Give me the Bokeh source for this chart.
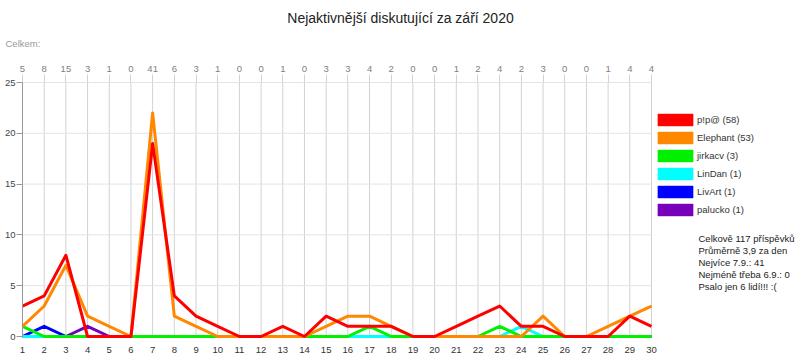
import numpy as np
from bokeh.plotting import figure
from bokeh.models import Range1d, FixedTicker, LinearAxis, Legend, LegendItem, Label
from bokeh.embed import file_html
from bokeh.resources import INLINE

# ---- data ----
days = list(range(1, 31))
totals = [5, 8, 15, 3, 1, 0, 41, 6, 3, 1, 0, 0, 1, 0, 3, 3, 4, 2, 0, 0, 1, 2, 4, 2, 3, 0, 0, 1, 4, 4]
pip = [3, 4, 8, 0, 0, 0, 19, 4, 2, 1, 0, 0, 1, 0, 2, 1, 1, 1, 0, 0, 1, 2, 3, 1, 1, 0, 0, 0, 2, 1]
elephant = [1, 3, 7, 2, 1, 0, 22, 2, 1, 0, 0, 0, 0, 0, 1, 2, 2, 1, 0, 0, 0, 0, 0, 0, 2, 0, 0, 1, 2, 3]
jirkacv = [1, 0, 0, 0, 0, 0, 0, 0, 0, 0, 0, 0, 0, 0, 0, 0, 1, 0, 0, 0, 0, 0, 1, 0, 0, 0, 0, 0, 0, 0]
lindan = [0, 0, 0, 0, 0, 0, 0, 0, 0, 0, 0, 0, 0, 0, 0, 0, 0, 0, 0, 0, 0, 0, 0, 1, 0, 0, 0, 0, 0, 0]
livart = [0, 1, 0, 0, 0, 0, 0, 0, 0, 0, 0, 0, 0, 0, 0, 0, 0, 0, 0, 0, 0, 0, 0, 0, 0, 0, 0, 0, 0, 0]
palucko = [0, 0, 0, 1, 0, 0, 0, 0, 0, 0, 0, 0, 0, 0, 0, 0, 0, 0, 0, 0, 0, 0, 0, 0, 0, 0, 0, 0, 0, 0]
names = ["p!p@", "Elephant", "jirkacv", "LinDan", "LivArt", "palucko"]
series = [pip, elephant, jirkacv, lindan, livart, palucko]
colors = ["#ff0000", "#ff8800", "#00f000", "#00ffff", "#0000ff", "#7700bb"]
title_text = "Nejaktivnější diskutující za září 2020"
summary_label = "Celkem:"
info_lines = ["Celkově 117 příspěvků", "Průměrně 3,9 za den", "Nejvíce 7.9.: 41",
              "Nejméně třeba 6.9.: 0", "Psalo jen 6 lidí!!! :("]
y_ticks = [0, 5, 10, 15, 20, 25]

FONT = "Liberation Sans"
W, H = 800, 360

# ---- layout: plot area in pixels (canvas coords from top-left) ----
PX_LEFT, PX_RIGHT, PX_TOP, PX_BOTTOM = 22, 651, 82, 336
XMIN, XMAX = days[0], days[-1]
YMIN, YMAX = y_ticks[0], y_ticks[-1]
ppx = (PX_RIGHT - PX_LEFT) / (XMAX - XMIN)
ppy = (PX_BOTTOM - PX_TOP) / (YMAX - YMIN)
x_range = Range1d(XMIN - PX_LEFT / ppx, XMAX + (W - PX_RIGHT) / ppx)
y_range = Range1d(YMIN - (H - PX_BOTTOM) / ppy, YMAX + PX_TOP / ppy)

p = figure(width=W, height=H, output_backend="svg", toolbar_location=None,
           x_range=x_range, y_range=y_range,
           min_border_left=0, min_border_right=0, min_border_top=0, min_border_bottom=0,
           x_axis_location=None, y_axis_location=None,
           background_fill_color="white", border_fill_color="white")
p.outline_line_color = None
p.grid.visible = False

# grid lines bounded to the plot area
p.segment(x0=days, y0=[YMIN] * len(days), x1=days, y1=[YMAX] * len(days),
          line_color="#d2d2d2", line_width=1)
p.segment(x0=[XMIN] * len(y_ticks), y0=y_ticks, x1=[XMAX] * len(y_ticks), y1=y_ticks,
          line_color="#e4e4e4", line_width=1)

# bottom axis (days)
bottom = LinearAxis(ticker=FixedTicker(ticks=days), fixed_location=YMIN, bounds=(XMIN, XMAX))
bottom.axis_line_color = None
bottom.major_tick_line_color = None
bottom.minor_tick_line_color = None
bottom.major_tick_out = 0
bottom.major_tick_in = 0
bottom.major_label_standoff = 10
bottom.major_label_text_font = FONT
bottom.major_label_text_font_size = "9.5px"
bottom.major_label_text_color = "#333333"
p.add_layout(bottom, "below")

# left axis
left = LinearAxis(ticker=FixedTicker(ticks=y_ticks), fixed_location=XMIN, bounds=(YMIN, YMAX))
left.axis_line_color = "#999999"
left.major_tick_line_color = "#999999"
left.minor_tick_line_color = None
left.major_tick_out = 6
left.major_tick_in = 0
left.major_label_standoff = 1
left.major_label_text_font = FONT
left.major_label_text_font_size = "9.5px"
left.major_label_text_color = "#444444"
p.add_layout(left, "left")

# top axis with daily totals
top = LinearAxis(ticker=FixedTicker(ticks=days), fixed_location=YMAX, bounds=(XMIN, XMAX),
                 major_label_overrides={d: str(t) for d, t in zip(days, totals)})
top.axis_line_color = None
top.major_tick_line_color = "#d2d2d2"
top.minor_tick_line_color = None
top.major_tick_out = 8
top.major_tick_in = 0
top.major_label_standoff = 3
top.major_label_text_font = FONT
top.major_label_text_font_size = "9.5px"
top.major_label_text_color = "#808080"
p.add_layout(top, "above")

# lines (draw last series first so p!p@ is on top)
for vals, c in reversed(list(zip(series, colors))):
    p.line(days, vals, line_color=c, line_width=3, line_join="round")

# legend swatches (area glyphs with no visible extent, used only for the legend)
items = []
for name, vals, c in zip(names, series, colors):
    nan = np.array([np.nan])
    q = p.quad(left=nan, right=nan, top=nan, bottom=nan,
               fill_color=c, line_color=c, line_alpha=0.45)
    items.append(LegendItem(label=f"{name} ({sum(vals)})", renderers=[q]))
legend = Legend(items=items, location=(653, 143), glyph_width=44, glyph_height=15,
                label_height=15, spacing=3, padding=0, margin=0, label_standoff=0,
                label_text_font=FONT, label_text_font_size="9.5px", label_text_color="#333333",
                border_line_color=None, background_fill_alpha=0)
p.add_layout(legend, "center")

# title and texts (screen units from the bottom-left corner)
p.add_layout(Label(x=W / 2, y=H - 17, x_units="screen", y_units="screen", text=title_text,
                   text_align="center", text_baseline="middle", text_font=FONT,
                   text_font_size="14px", text_color="#222222"))
p.add_layout(Label(x=5, y=H - 43, x_units="screen", y_units="screen", text=summary_label,
                   text_align="left", text_baseline="middle", text_font=FONT,
                   text_font_size="9.5px", text_color="#999999"))
for i, line in enumerate(info_lines):
    p.add_layout(Label(x=698, y=H - 238 - i * 11.9, x_units="screen", y_units="screen", text=line,
                       text_align="left", text_baseline="middle", text_font=FONT,
                       text_font_size="9.5px", text_color="#222222"))

open("out.html", "w").write(file_html(p, INLINE))
